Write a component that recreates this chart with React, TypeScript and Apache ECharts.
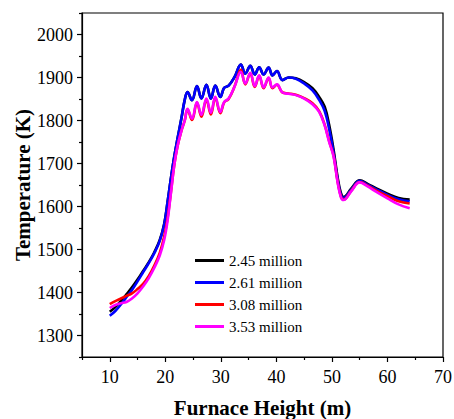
import React, { useEffect, useRef } from "react";
import * as echarts from "echarts";

// Furnace height (m), shared sampling positions for all curves
const heights = [
  10, 11, 12, 13, 14, 15, 16, 17, 18, 19, 19.8, 20.4, 21.0, 21.6, 22.2, 22.9, 23.5,
  24.0, 24.8, 25.7, 26.5, 27.4, 28.2, 29.0, 29.9, 30.6, 31.4, 32.5, 33.6, 34.4, 35.3,
  36.1, 36.9, 37.7, 38.6, 39.3, 40.1, 41.1, 42.2, 43.5, 45.0, 46.5, 47.7, 48.7, 49.5,
  50.3, 51.0, 51.6, 52.1, 53.5, 55.0, 56.5, 58.0, 60.0, 62.0, 64.0,
];

// Temperature (K) for each grid size
const temp245 = [
  1355, 1366, 1380, 1396, 1412, 1430, 1450, 1470, 1493, 1522, 1560, 1610, 1665, 1715, 1758, 1805, 1848,
  1866, 1847, 1880, 1851, 1883, 1851, 1881, 1855, 1876, 1881, 1902, 1930, 1909, 1927,
  1907, 1924, 1907, 1923, 1905, 1915, 1894, 1900, 1898, 1889, 1875, 1855, 1832, 1790,
  1732, 1670, 1632, 1622, 1642, 1661, 1652, 1642, 1630, 1620, 1616,
];
const temp261 = [
  1346, 1357, 1372, 1389, 1406, 1426, 1447, 1468, 1491, 1520, 1558, 1610, 1665, 1715, 1758, 1805, 1848,
  1866, 1847, 1880, 1851, 1883, 1851, 1881, 1855, 1876, 1881, 1902, 1930, 1909, 1927,
  1907, 1924, 1907, 1923, 1905, 1915, 1894, 1900, 1897, 1886, 1870, 1848, 1822, 1780,
  1725, 1665, 1628, 1620, 1640, 1660, 1650, 1640, 1627, 1617, 1612,
];
const temp308 = [
  1373, 1380, 1386, 1392, 1398, 1408, 1420, 1438, 1462, 1492, 1530, 1572, 1632, 1695, 1740, 1776, 1800,
  1826, 1801, 1841, 1809, 1849, 1814, 1853, 1817, 1842, 1850, 1880, 1918, 1884, 1910,
  1878, 1904, 1875, 1899, 1875, 1883, 1865, 1863, 1860, 1852, 1840, 1822, 1790, 1752,
  1718, 1660, 1624, 1616, 1637, 1657, 1648, 1637, 1624, 1612, 1607,
];
const temp353 = [
  1364, 1371, 1375, 1378, 1386, 1398, 1414, 1433, 1457, 1486, 1522, 1566, 1630, 1695, 1740, 1776, 1800,
  1827, 1804, 1843, 1813, 1851, 1818, 1855, 1820, 1843, 1851, 1880, 1913, 1886, 1911,
  1880, 1905, 1877, 1900, 1877, 1884, 1865, 1862, 1859, 1851, 1838, 1820, 1788, 1750,
  1716, 1658, 1622, 1615, 1636, 1656, 1646, 1634, 1619, 1605, 1596,
];

const seriesNames = ["2.45 million", "2.61 million", "3.08 million", "3.53 million"];
const seriesColors = ["#000000", "#0000ff", "#ff0000", "#ff00ff"];
const seriesTemps = [temp245, temp261, temp308, temp353];

// Axis ticks: labelled majors, short minors in between
const xMajorTicks = [10, 20, 30, 40, 50, 60, 70];
const xMinorTicks = [5, 15, 25, 35, 45, 55, 65];
const yMajorTicks = [1300, 1400, 1500, 1600, 1700, 1800, 1900, 2000];
const yMinorTicks = [1250, 1350, 1450, 1550, 1650, 1750, 1850, 1950, 2050];

const FONT = "'Liberation Serif', 'Times New Roman', serif";

export default function App() {
  const ref = useRef<HTMLDivElement>(null);

  useEffect(() => {
    if (!ref.current) return;
    const chart = echarts.init(ref.current, undefined, { renderer: "svg" });

    const axisLine = { show: true, lineStyle: { color: "#000", width: 1.2 } };
    const tickStyle = { color: "#000", width: 1.2 };
    const labelText = (majors: number[]) => (v: number) =>
      majors.includes(v) ? String(v) : "";

    chart.setOption({
      animation: false,
      backgroundColor: "#fff",
      textStyle: { fontFamily: FONT },
      grid: {
        left: 82,
        right: 11,
        top: 13,
        bottom: 62,
        outerBoundsMode: "none",
        containLabel: false,
        show: true,
        borderColor: "#000",
        borderWidth: 1.2,
        backgroundColor: "transparent",
      },
      legend: {
        orient: "vertical",
        left: 195,
        top: 252,
        padding: 0,
        icon: "rect",
        itemWidth: 29,
        itemHeight: 3,
        itemGap: 5,
        data: seriesNames,
        textStyle: { fontFamily: FONT, fontSize: 15, color: "#000", lineHeight: 17 },
      },
      xAxis: [
        {
          type: "value",
          min: 5,
          max: 70,
          interval: 5,
          name: "Furnace Height (m)",
          nameLocation: "middle",
          nameGap: 40,
          nameMoveOverlap: false,
          nameTextStyle: { fontFamily: FONT, fontSize: 21, fontWeight: "bold", color: "#000", lineHeight: 21 },
          axisLine,
          axisTick: { show: true, inside: false, length: 5, customValues: xMajorTicks, lineStyle: tickStyle },
          axisLabel: {
            formatter: labelText(xMajorTicks),
            fontFamily: FONT,
            fontSize: 18,
            color: "#000",
            margin: 11,
          },
          splitLine: { show: false },
        },
        {
          type: "value",
          min: 5,
          max: 70,
          interval: 5,
          position: "bottom",
          axisLine: { show: false },
          axisTick: { show: true, inside: false, length: 3, customValues: xMinorTicks, lineStyle: tickStyle },
          axisLabel: { show: false },
          splitLine: { show: false },
        },
      ],
      yAxis: [
        {
          type: "value",
          min: 1250,
          max: 2050,
          interval: 50,
          name: "Temperature (K)",
          nameLocation: "middle",
          nameGap: 49,
          nameMoveOverlap: false,
          nameTextStyle: { fontFamily: FONT, fontSize: 21, fontWeight: "bold", color: "#000", lineHeight: 21 },
          axisLine,
          axisTick: { show: true, inside: false, length: 5, customValues: yMajorTicks, lineStyle: tickStyle },
          axisLabel: {
            formatter: labelText(yMajorTicks),
            fontFamily: FONT,
            fontSize: 18,
            color: "#000",
            margin: 9,
          },
          splitLine: { show: false },
        },
        {
          type: "value",
          min: 1250,
          max: 2050,
          interval: 50,
          position: "left",
          axisLine: { show: false },
          axisTick: { show: true, inside: false, length: 3, customValues: yMinorTicks, lineStyle: tickStyle },
          axisLabel: { show: false },
          splitLine: { show: false },
        },
      ],
      series: seriesNames.map((name, i) => ({
        name,
        type: "line",
        xAxisIndex: 0,
        yAxisIndex: 0,
        smooth: 0.4,
        symbol: "none",
        color: seriesColors[i],
        lineStyle: { color: seriesColors[i], width: 2.6 },
        data: heights.map((h, j) => [h, seriesTemps[i][j]]),
      })),
    });

    return () => chart.dispose();
  }, []);

  return (
    <div
      ref={ref}
      style={{ position: "fixed", left: 0, top: 0, width: 454, height: 419 }}
    />
  );
}
